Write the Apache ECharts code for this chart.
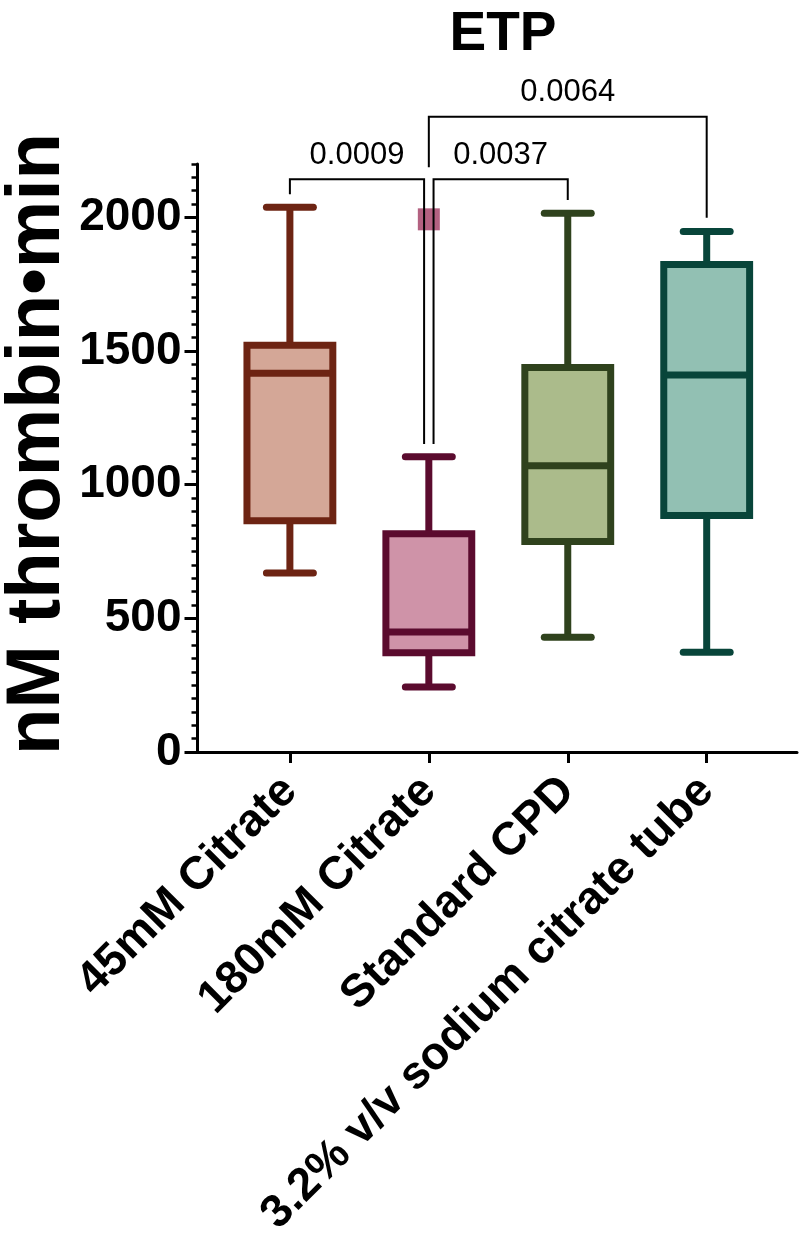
<!DOCTYPE html>
<html><head><meta charset="utf-8">
<script src="https://cdn.jsdelivr.net/npm/echarts@6/dist/echarts.min.js"></script>
<style>html,body{margin:0;padding:0;background:#fff}#c{width:800px;height:1233px}</style>
</head><body><div id="c"></div>
<script>
// ---- data ----
const categories = ['45mM Citrate', '180mM Citrate', 'Standard CPD', '3.2% v/v sodium citrate tube'];
const lowWhisker  = [670, 243, 429, 373];
const q1          = [865, 371, 788, 885];
const median      = [1417, 449, 1071, 1411];
const q3          = [1522, 817, 1439, 1824];
const highWhisker = [2038, 1105, 2016, 1947];
const outliers    = [[1, 1993]];
// brackets: [fromX, toX, barY, leftLegEnd, rightLegEnd]
const bracketFrom = [0, 1.034, 1.0];
const bracketTo   = [0.966, 2.0, 3.0];
const bracketY    = [2143, 2143, 2377];
const bracketLeftEnd  = [2087, 1152, 2188];
const bracketRightEnd = [1152, 2065, 1999];
const pLabels = ['0.0009', '0.0037', '0.0064'];
const yTickValues = [0, 500, 1000, 1500, 2000];

// ---- styles ----
const strokeColors = ['#6d2413', '#5b0b2e', '#2f421d', '#08453a'];
const fillColors   = ['#d4a797', '#cf93a8', '#abbb8b', '#92c0b3'];
const FONT = "'Liberation Sans', Arial, Helvetica, sans-serif";

const boxData = categories.map((c, i) => [i, lowWhisker[i], q1[i], median[i], q3[i], highWhisker[i]]);
const bracketData = pLabels.map((p, i) => [bracketFrom[i], bracketTo[i], bracketY[i], bracketLeftEnd[i], bracketRightEnd[i]]);

const chart = echarts.init(document.getElementById('c'), null, {renderer: 'canvas'});
chart.setOption({
  animation: false,
  backgroundColor: '#fff',
  title: {
    text: 'ETP', left: 498, top: 2, textAlign: 'center',
    textStyle: {fontFamily: FONT, fontWeight: 'bold', fontSize: 55, color: '#000'}
  },
  graphic: [{
    type: 'text', x: 38, y: 444, rotation: Math.PI / 2,
    style: {text: 'nM thrombin•min', fontFamily: FONT, fontWeight: 'bold', fontSize: 76,
            fill: '#000', textAlign: 'center', textVerticalAlign: 'middle'}
  }],
  grid: {left: 197.5, top: 164, right: 3, bottom: 481, containLabel: false, outerBoundsMode: 'none'},
  xAxis: {
    type: 'value', min: -0.665, max: 3.65,
    splitLine: {show: false},
    axisLine: {show: true, onZero: false, lineStyle: {color: '#000', width: 3}},
    axisTick: {show: true, customValues: [0, 1, 2, 3], length: 11, lineStyle: {color: '#000', width: 3}},
    axisLabel: {
      show: true, customValues: [0, 1, 2, 3], rotate: 45, margin: 32,
      formatter: v => categories[Math.round(v)],
      fontFamily: FONT, fontWeight: 'bold', fontSize: 46, color: '#000'
    }
  },
  yAxis: [{
    type: 'value', min: 0, max: 2200,
    splitLine: {show: false},
    axisLine: {show: true, onZero: false, lineStyle: {color: '#000', width: 3}},
    axisTick: {show: true, customValues: yTickValues, length: 13, lineStyle: {color: '#000', width: 3}},
    axisLabel: {show: true, customValues: yTickValues, margin: 16, formatter: v => String(v),
                fontFamily: FONT, fontWeight: 'bold', fontSize: 46, color: '#000'}
  }, {
    type: 'value', min: 0, max: 2200, interval: 50, position: 'left',
    splitLine: {show: false},
    axisLine: {show: false, onZero: false},
    axisTick: {show: true, length: 6, lineStyle: {color: '#000', width: 2.5}},
    axisLabel: {show: false}
  }],
  series: [{
    type: 'custom', name: 'ETP', clip: false,
    data: boxData,
    encode: {x: 0, y: [1, 2, 3, 4, 5]},
    renderItem: function (params, api) {
      const i = api.value(0);
      const x = api.coord([i, 0])[0];
      const band = api.size([1, 0])[0];
      const yLo = api.coord([i, api.value(1)])[1];
      const yQ1 = api.coord([i, api.value(2)])[1];
      const yMed = api.coord([i, api.value(3)])[1];
      const yQ3 = api.coord([i, api.value(4)])[1];
      const yHi = api.coord([i, api.value(5)])[1];
      const hb = band * 0.309, hc = band * 0.169;
      const col = strokeColors[params.dataIndex], fill = fillColors[params.dataIndex];
      const ls = {stroke: col, lineWidth: 7};
      return {type: 'group', children: [
        {type: 'line', shape: {x1: x, y1: yHi, x2: x, y2: yQ3}, style: ls},
        {type: 'line', shape: {x1: x, y1: yQ1, x2: x, y2: yLo}, style: ls},
        {type: 'line', shape: {x1: x - hc, y1: yHi, x2: x + hc, y2: yHi}, style: {stroke: col, lineWidth: 7, lineCap: 'round'}},
        {type: 'line', shape: {x1: x - hc, y1: yLo, x2: x + hc, y2: yLo}, style: {stroke: col, lineWidth: 7, lineCap: 'round'}},
        {type: 'rect', shape: {x: x - hb, y: yQ3, width: 2 * hb, height: yQ1 - yQ3}, style: {fill: fill, stroke: col, lineWidth: 7}},
        {type: 'line', shape: {x1: x - hb, y1: yMed, x2: x + hb, y2: yMed}, style: ls}
      ]};
    }
  }, {
    type: 'scatter', name: 'outlier', data: outliers,
    symbol: 'rect', symbolSize: 22, itemStyle: {color: '#a03a62'}, z: 1
  }, {
    type: 'custom', name: 'brackets', clip: false, z: 3,
    data: bracketData,
    encode: {x: [0, 1], y: [2, 3, 4]},
    renderItem: function (params, api) {
      const a = api.coord([api.value(0), api.value(2)]);
      const b = api.coord([api.value(1), api.value(2)]);
      const la = api.coord([api.value(0), api.value(3)]);
      const rb = api.coord([api.value(1), api.value(4)]);
      return {type: 'group', children: [
        {type: 'polyline', shape: {points: [[la[0], la[1]], [a[0], a[1]], [b[0], b[1]], [rb[0], rb[1]]]},
         style: {stroke: '#000', lineWidth: 2, fill: null}},
        {type: 'text', style: {text: pLabels[params.dataIndex], x: (a[0] + b[0]) / 2, y: a[1] - 24,
          textAlign: 'center', textVerticalAlign: 'middle', fontFamily: FONT, fontSize: 31, fill: '#000'}}
      ]};
    }
  }]
});
</script></body></html>
